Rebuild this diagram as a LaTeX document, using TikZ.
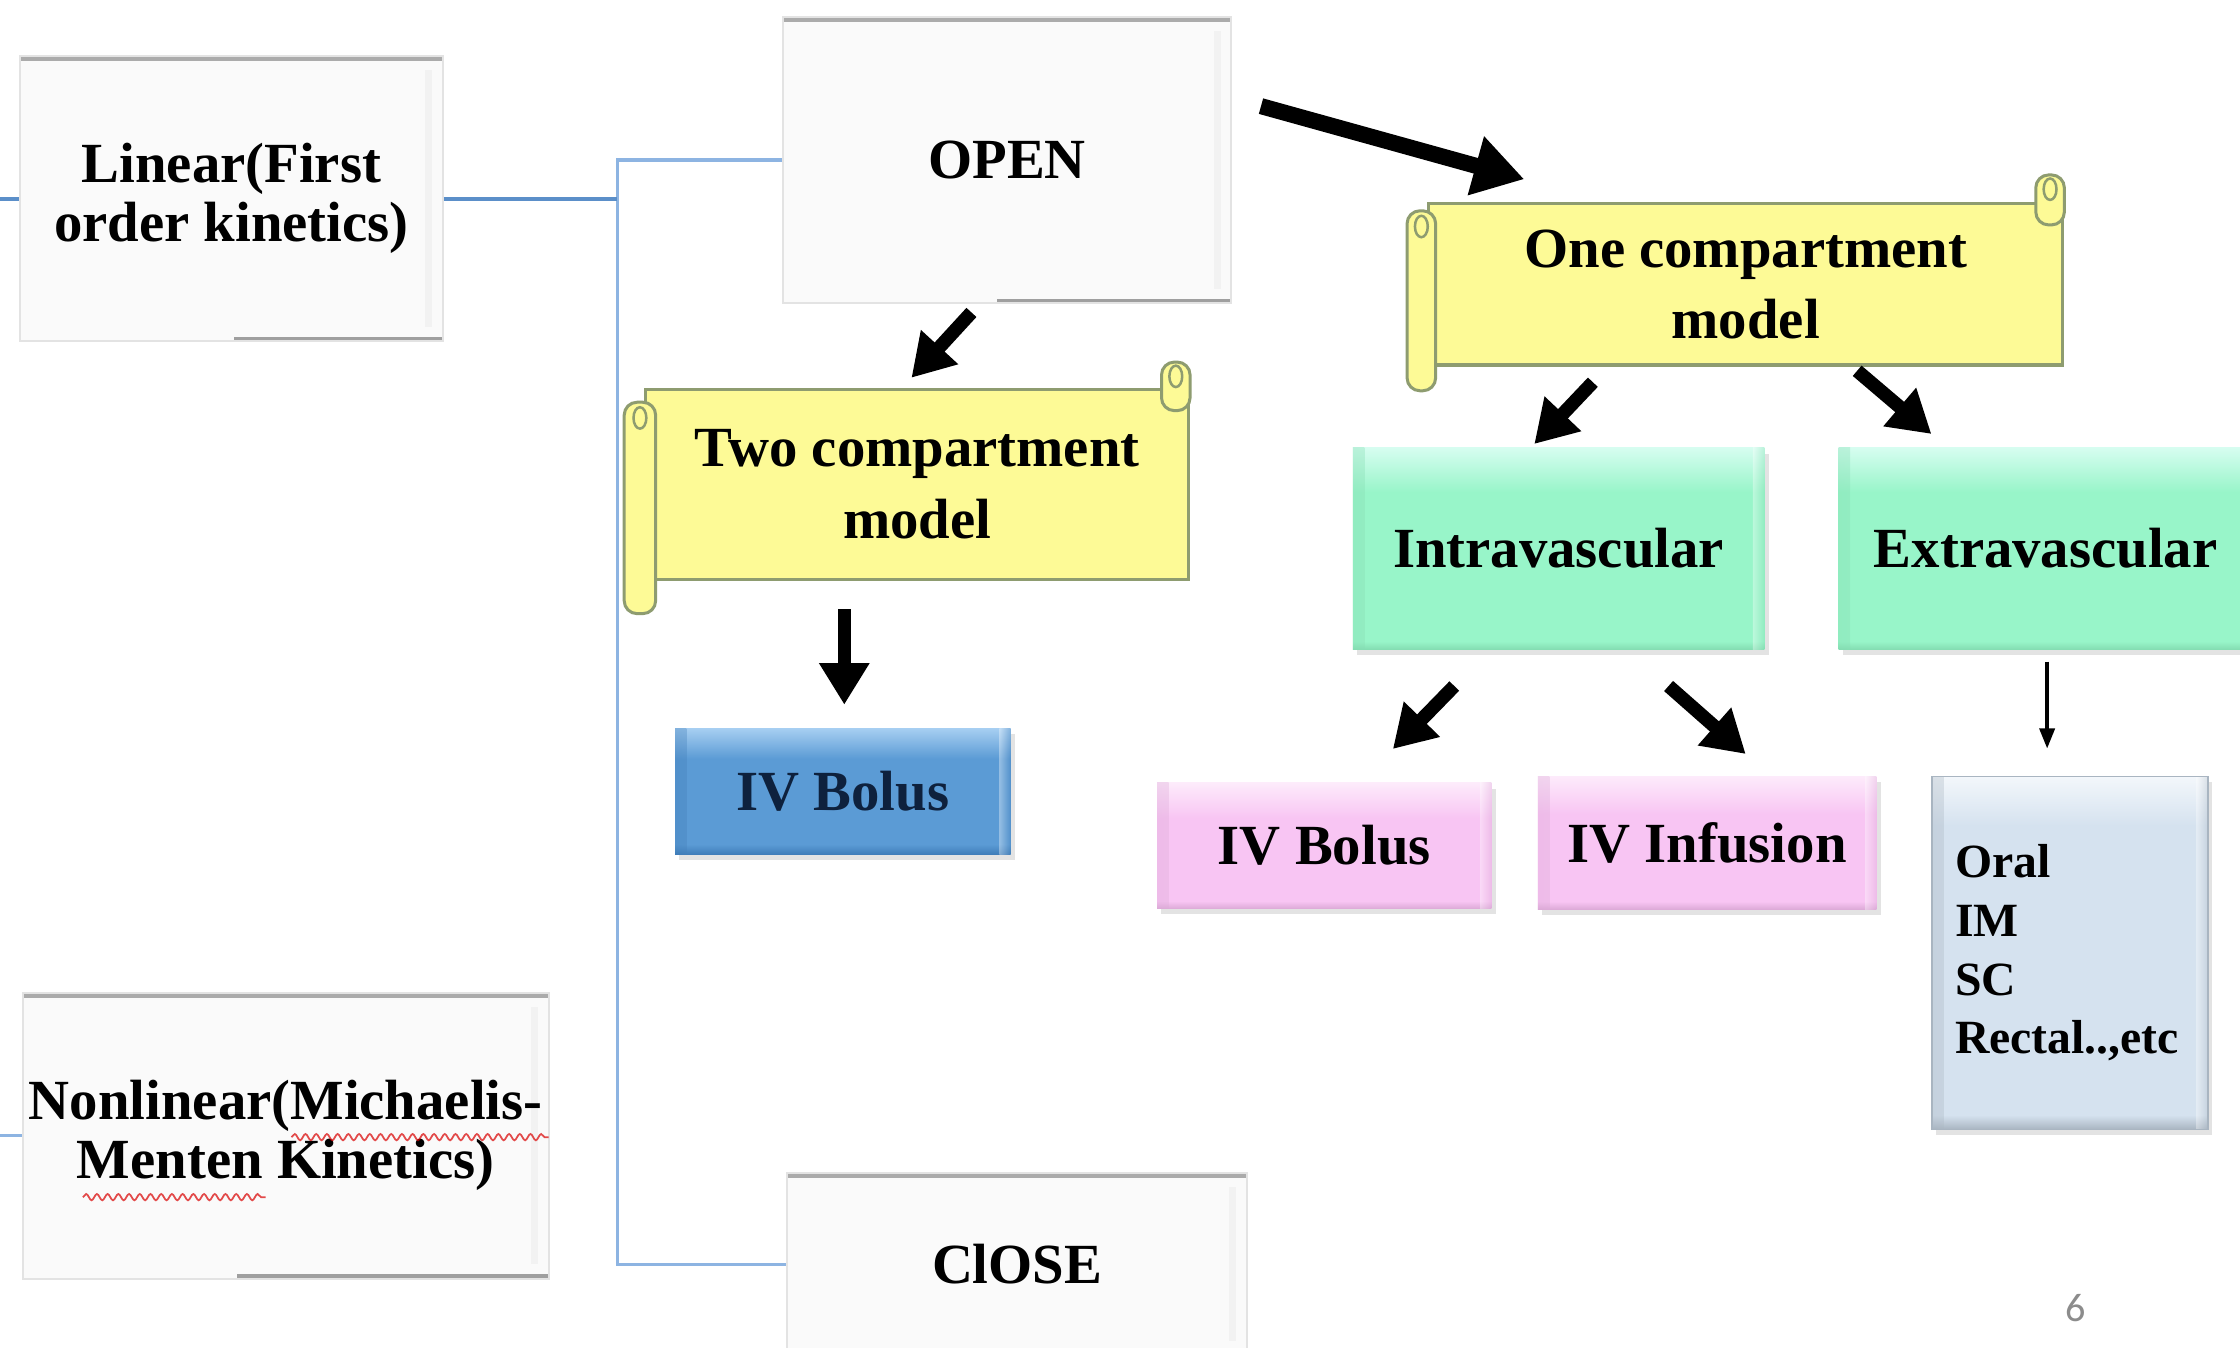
\documentclass[tikz,border=0pt]{standalone}
\usepackage{fontspec}
\setmainfont{Liberation Serif}
\newfontfamily\pagefont{Carlito}
\usetikzlibrary{arrows.meta,calc,shadows,decorations.pathmorphing}
\definecolor{connblue}{HTML}{5B8FC9}
\definecolor{brkblue}{HTML}{8DB4E2}
\definecolor{scrollyel}{HTML}{FDFA96}
\definecolor{scrollline}{HTML}{8E9C70}
\definecolor{mint}{HTML}{98F5C9}
\definecolor{minthl}{HTML}{D6FDF0}
\definecolor{mintdk}{HTML}{84DDB2}
\definecolor{pinkf}{HTML}{F8C5F3}
\definecolor{pinkhl}{HTML}{FDEBFB}
\definecolor{pinkdk}{HTML}{DCAAD7}
\definecolor{bluef}{HTML}{5B9BD5}
\definecolor{bluehl}{HTML}{A6CEF1}
\definecolor{bluedk}{HTML}{3F7DB9}
\definecolor{bluetext}{HTML}{0E213D}
\definecolor{oralf}{HTML}{D5E2EF}
\definecolor{oralhl}{HTML}{F3F7FB}
\definecolor{oraldk}{HTML}{A9B5C1}
\definecolor{whitef}{HTML}{FAFAFA}
\definecolor{whiteln}{HTML}{ABABAB}
\definecolor{pagegray}{HTML}{8C8C8C}
% the path covers 25bp (bottom) to 75bp (top) of a declared shading
\pgfdeclareverticalshading{mintbevel}{100bp}{color(0bp)=(mintdk); color(25bp)=(mintdk); color(27bp)=(mint); color(64bp)=(mint); color(75bp)=(minthl); color(100bp)=(minthl)}
\pgfdeclareverticalshading{pinkbevel}{100bp}{color(0bp)=(pinkdk); color(25bp)=(pinkdk); color(28bp)=(pinkf); color(61bp)=(pinkf); color(75bp)=(pinkhl); color(100bp)=(pinkhl)}
\pgfdeclareverticalshading{bluebevel}{100bp}{color(0bp)=(bluedk); color(25bp)=(bluedk); color(29bp)=(bluef); color(63bp)=(bluef); color(75bp)=(bluehl); color(100bp)=(bluehl)}
\pgfdeclareverticalshading{oralbevel}{100bp}{color(0bp)=(oraldk); color(25bp)=(oraldk); color(27bp)=(oralf); color(68bp)=(oralf); color(75bp)=(oralhl); color(100bp)=(oralhl)}
\tikzset{
  every node/.style={font=\bfseries\fontsize{11.3}{11.7}\selectfont, align=center, inner sep=0pt},
  bevel/.style 2 args={shading=#1, path picture={
      \shade[left color=#2,right color=#2!0!white, opacity=0.35] (path picture bounding box.north west) rectangle ($(path picture bounding box.south west)+(0.8mm,0)$);
      \shade[left color=#2!0!white,right color=#2, opacity=0.35] ($(path picture bounding box.north east)+(-0.8mm,0)$) rectangle (path picture bounding box.south east);
  }},
  softshadow/.style={drop shadow={opacity=0.22, shadow xshift=0.3mm, shadow yshift=-0.4mm}},
  whitebox/.style={fill=whitef, draw=gray!22, line width=0.4pt, path picture={
      \draw[whiteln, line width=0.7mm] (path picture bounding box.north west) -- (path picture bounding box.north east);
      \draw[gray!75, line width=0.6mm] ($(path picture bounding box.south west)+(1.5cm,0)$) -- (path picture bounding box.south east);
      \draw[gray!10, line width=0.5mm] ($(path picture bounding box.north east)+(-1mm,-1mm)$) -- ($(path picture bounding box.south east)+(-1mm,1mm)$);
  }},
  scrollbody/.style={fill=scrollyel, draw=scrollline, line width=0.6pt, font=\bfseries\fontsize{11.3}{14.2}\selectfont},
  scrollroll/.style={fill=scrollyel, draw=scrollline, line width=0.6pt, rounded corners=0.9mm},
  conn/.style={connblue, line width=0.8pt},
  bracket/.style={brkblue, line width=0.6pt},
  bigarrow/.style={line width=2.7pt, -{Triangle[width=9.5pt,length=8.3pt]}},
  hugearrow/.style={line width=3.2pt, -{Triangle[width=11.5pt,length=10pt]}},
  thinarrow/.style={line width=0.7pt, -{Triangle[width=3pt,length=4pt]}},
  squiggle/.style={red!85!black, opacity=0.7, line width=0.35pt, decorate, decoration={snake, amplitude=0.22mm, segment length=0.75mm}},
}
\begin{document}
\begin{tikzpicture}[x=0.1mm, y=-0.1mm]
\useasboundingbox (0,0) rectangle (1568,943);
\clip (0,0) rectangle (1568,943);
\fill[white] (0,0) rectangle (1568,943);

% white boxes
\node[whitebox, minimum width=29.6mm, minimum height=20mm] (lin) at (162,139) {Linear(First\\order kinetics)};
\node[whitebox, minimum width=31.4mm, minimum height=20mm] (open) at (705,112) {OPEN};
\node[whitebox, minimum width=32.2mm, minimum height=12.8mm] (close) at (712,885) {ClOSE};
\node[whitebox, minimum width=36.8mm, minimum height=20mm] (nonlin) at (200,795) {Nonlinear(Michaelis-\\Menten Kinetics)};

% bracket connectors
\coordinate (lstub) at (0,139);
\coordinate (nstub) at (0,795);
\coordinate (brk) at (432,0);
\draw[bracket] (open.west) -- (open.west -| brk) |- (close.west);
\draw[conn] (lin.east) -- (lin.east -| brk);
\draw[conn] (lstub) -- (lin.west);
\draw[bracket] (nstub) -- (nonlin.west);

% spell-check squiggles
\draw[squiggle] ($(nonlin.center)+(4,1)$) -- ++(180,0);
\draw[squiggle] ($(nonlin.center)+(-142,43)$) -- ++(128,0);

% scrolls
\node[scrollbody, minimum width=38mm, minimum height=13.3mm] (two) at (642,339) {Two compartment\\model};
\filldraw[scrollroll] ($(two.north east)+(-20,-18)$) rectangle ($(two.north east)+(0,16)$);
\draw[scrollline, line width=0.5pt] ($(two.north east)+(-10,-8)$) ellipse [x radius=0.45mm, y radius=0.75mm];
\filldraw[scrollroll] ($(two.south west)+(-14,-125)$) rectangle ($(two.south west)+(8,23)$);
\draw[scrollline, line width=0.5pt] ($(two.south west)+(-3,-114)$) ellipse [x radius=0.45mm, y radius=0.75mm];

\node[scrollbody, minimum width=44.4mm, minimum height=11.3mm] (one) at (1222,199) {One compartment\\model};
\filldraw[scrollroll] ($(one.north east)+(-20,-19)$) rectangle ($(one.north east)+(0,16)$);
\draw[scrollline, line width=0.5pt] ($(one.north east)+(-10,-9)$) ellipse [x radius=0.45mm, y radius=0.75mm];
\filldraw[scrollroll] ($(one.south west)+(-14,-109)$) rectangle ($(one.south west)+(6,17)$);
\draw[scrollline, line width=0.5pt] ($(one.south west)+(-4,-98)$) ellipse [x radius=0.45mm, y radius=0.75mm];

% coloured boxes
\node[bevel={mintbevel}{mintdk}, softshadow, minimum width=28.8mm, minimum height=14.1mm] (intra) at (1091,384) {Intravascular};
\node[bevel={mintbevel}{mintdk}, softshadow, minimum width=29mm, minimum height=14.1mm] (extra) at (1432,384) {Extravascular};
\node[bevel={bluebevel}{bluedk}, softshadow, text=bluetext, minimum width=23.5mm, minimum height=8.8mm] (bolusA) at (590,554) {IV Bolus};
\node[bevel={pinkbevel}{pinkdk}, softshadow, minimum width=23.4mm, minimum height=8.8mm] (bolusB) at (927,592) {IV Bolus};
\node[bevel={pinkbevel}{pinkdk}, softshadow, minimum width=23.7mm, minimum height=9.3mm] (infus) at (1195,590) {IV Infusion};
\node[bevel={oralbevel}{oraldk}, softshadow, draw=oraldk, line width=0.3pt, minimum width=19.3mm, minimum height=24.7mm, align=left, text width=16.1mm, inner xsep=1.6mm, font=\bfseries\fontsize{9.5}{11.7}\selectfont] (oral) at (1449,667) {Oral\\IM\\SC\\Rectal..,etc};

% arrows
\draw[hugearrow] ($(open.north east)+(20,63)$) -- ($(one.north west)+(68,-16)$);
\draw[bigarrow] ($(open.south)+(-25,6)$) -- ($(two.north)+(-4,-7)$);
\draw[bigarrow] ($(two.south)+(-51,20)$) -- ($(bolusA.north)+(1,-16)$);
\draw[bigarrow] ($(one.south)+(-107,11)$) -- ($(intra.north)+(-17,-2)$);
\draw[bigarrow] ($(one.south)+(78,3)$) -- ($(extra.north)+(-80,-9)$);
\draw[bigarrow] ($(intra.south)+(-73,25)$) -- ($(bolusB.north)+(48,-23)$);
\draw[bigarrow] ($(intra.south)+(77,25)$) -- ($(infus.north)+(27,-15)$);
\draw[thinarrow] ($(extra.south)+(1,8)$) -- ($(oral.north)+(-16,-19)$);

% page number
\node[font=\pagefont\fontsize{8}{9}\selectfont, text=pagegray] (pg) at (1453,916) {6};
\end{tikzpicture}
\end{document}
